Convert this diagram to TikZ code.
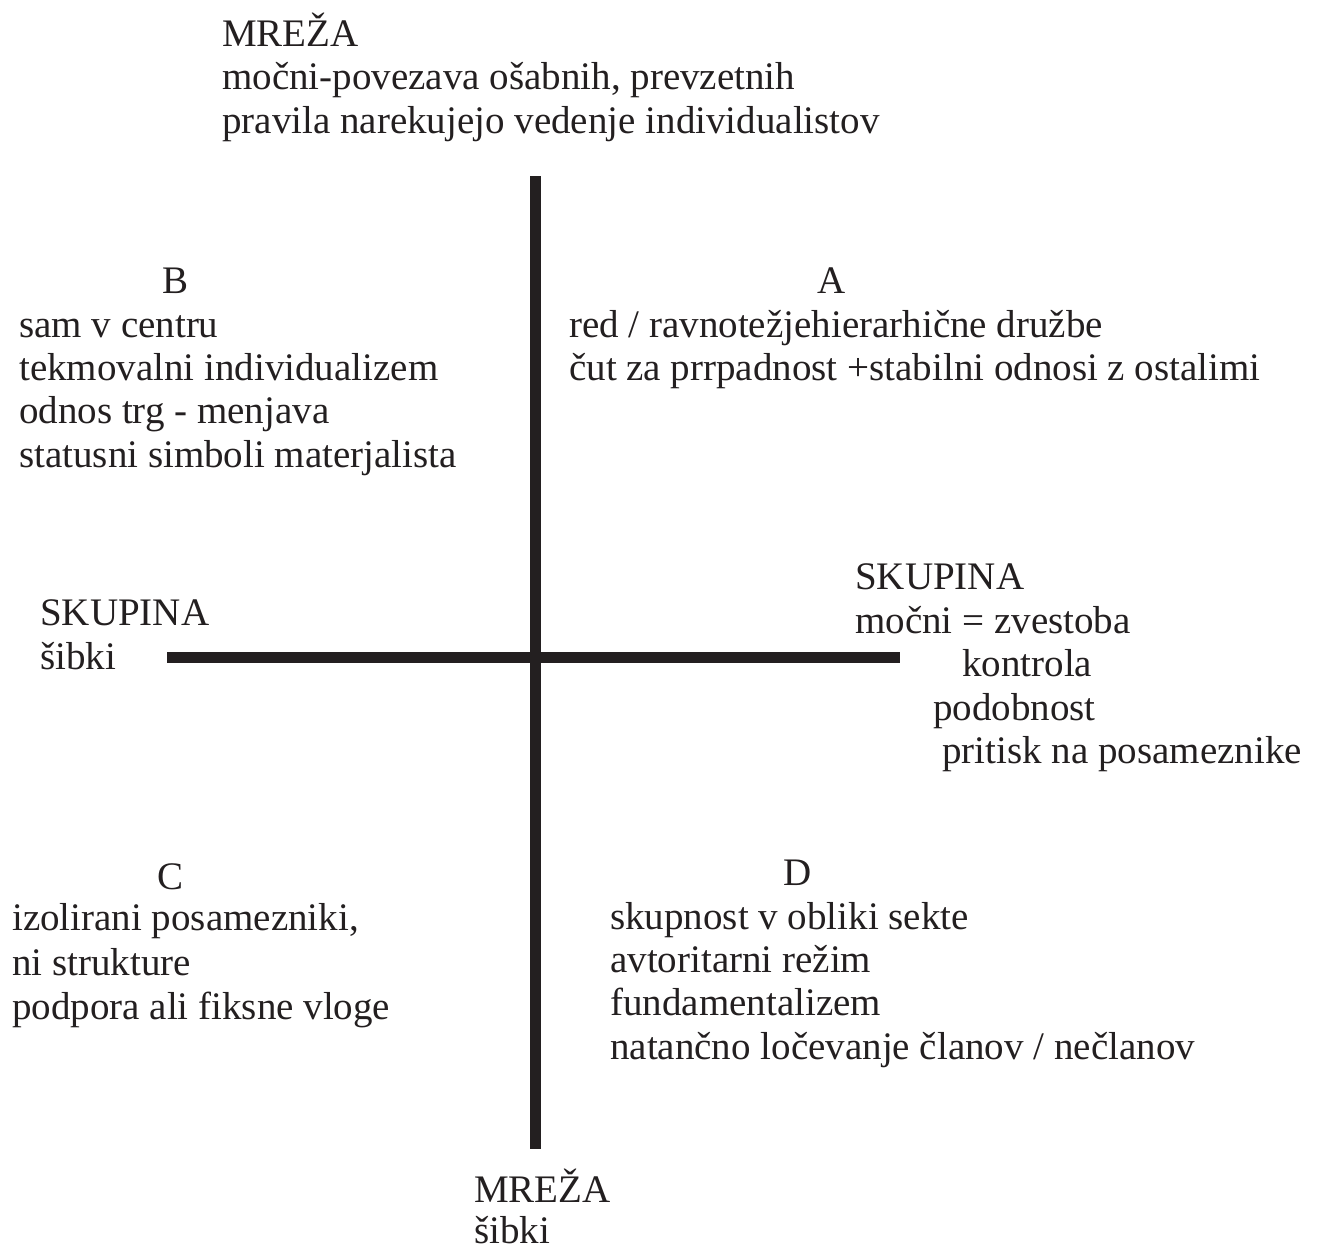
\documentclass[tikz,border=0pt]{standalone}
\usepackage{fontspec}
\setmainfont{Liberation Serif}
\definecolor{ink}{HTML}{231F20}
\begin{document}
\begin{tikzpicture}[x=1pt,y=-1pt,
  txt/.style={anchor=base west,inner sep=0pt,text=ink,font=\fontsize{39}{43.5}\selectfont},
  ctr/.style={anchor=base,inner sep=0pt,text=ink,font=\fontsize{39}{43.5}\selectfont},
  axis/.style={draw=ink,line width=11pt}]
\useasboundingbox (0,0) rectangle (1318,1250);
% axes
\coordinate (vt) at (535,176);
\coordinate (vb) at (535,1149);
\coordinate (hl) at (167,657);
\coordinate (hr) at (900,657);
\draw[axis] (vt) -- (vb);
\draw[axis] (hl) -- (hr);
% top
\node[txt] (t1) at (222,46) {MREŽA};
\node[txt] (t2) at (222,89) {močni-povezava ošabnih, prevzetnih};
\node[txt] (t3) at (222,133) {pravila narekujejo vedenje individualistov};
% B
\node[ctr] (bB) at (176,293) {B};
\node[txt] (b1) at (19,337) {sam v centru};
\node[txt] (b2) at (19,380) {tekmovalni individualizem};
\node[txt] (b3) at (19,423) {odnos trg - menjava};
\node[txt] (b4) at (19,467) {statusni simboli materjalista};
% A
\node[ctr] (aA) at (832,293) {A};
\node[txt] (a1) at (569,337) {red / ravnotežjehierarhične družbe};
\node[txt] (a2) at (569,380) {čut za prrpadnost +stabilni odnosi z ostalimi};
% left SKUPINA
\node[txt] (l1) at (40,625) {SKUPINA};
\node[txt] (l2) at (40,669) {šibki};
% right SKUPINA
\node[txt] (r1) at (855,589) {SKUPINA};
\node[txt] (r2) at (855,633) {močni = zvestoba};
\node[txt] (r3) at (962,676) {kontrola};
\node[txt] (r4) at (933,720) {podobnost};
\node[txt] (r5) at (942,763) {pritisk na posameznike};
% C
\node[ctr] (cC) at (171,889) {C};
\node[txt] (c1) at (12,930) {izolirani posamezniki,};
\node[txt] (c2) at (12,975) {ni strukture};
\node[txt] (c3) at (12,1019) {podpora ali fiksne vloge};
% D
\node[ctr] (dD) at (798,885) {D};
\node[txt] (d1) at (610,929) {skupnost v obliki sekte};
\node[txt] (d2) at (610,972) {avtoritarni režim};
\node[txt] (d3) at (610,1015) {fundamentalizem};
\node[txt] (d4) at (610,1059) {natančno ločevanje članov / nečlanov};
% bottom
\node[txt] (m1) at (474,1202) {MREŽA};
\node[txt] (m2) at (474,1243) {šibki};
\end{tikzpicture}
\end{document}
